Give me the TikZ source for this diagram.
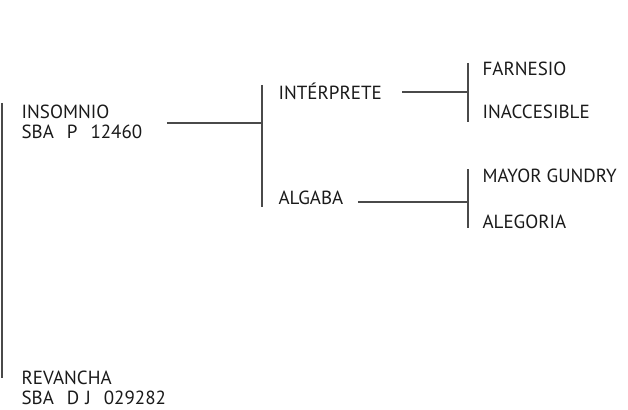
\documentclass[tikz,border=0pt]{standalone}
\usepackage{fontspec}
\setmainfont{PT Sans}
\usetikzlibrary{positioning, calc}
\definecolor{cline}{HTML}{4A4A4A}
\definecolor{ctext}{HTML}{1A1A1A}
\newcommand{\gapsp}{\hspace{13pt}}
\tikzset{
  every picture/.style={font=\fontsize{19}{20.5}\selectfont, line width=1.2pt},
  title/.style={anchor=west, inner sep=0pt, text=ctext, align=left},
  link/.style={draw=cline, line width=1.3pt},
}
\begin{document}
\begin{tikzpicture}[x=1pt, y=-1pt]
  \useasboundingbox (0,0) rectangle (628,409);
  % titles
  \node[title] (insomnio) at (21,122) {INSOMNIO\\SBA\gapsp P\gapsp 12460};
  \node[title] (revancha) at (21,388) {REVANCHA\\SBA\gapsp D\hspace{6pt}J\gapsp 029282};
  \node[title] (interprete) at (278,91) {INTÉRPRETE};
  \node[title] (algaba) at (278,198) {ALGABA};
  \node[title] (farnesio) at (482,69) {FARNESIO};
  \node[title] (inaccesible) at (482,112) {INACCESIBLE};
  \node[title] (mayor) at (482,176) {MAYOR GUNDRY};
  \node[title] (alegoria) at (482,222) {ALEGORIA};
  % brackets
  \coordinate (lt) at (2,103);
  \coordinate (lb) at (2,378);
  \coordinate (j1t) at (262,85);
  \coordinate (j1b) at (262,207);
  \coordinate (j2t) at (468,63);
  \coordinate (j2b) at (468,122);
  \coordinate (j3t) at (468,169);
  \coordinate (j3b) at (468,228);
  \draw[link] (lt) -- (lb);
  \draw[link] (j1t) -- (j1b);
  \draw[link] (j2t) -- (j2b);
  \draw[link] (j3t) -- (j3b);
  % branches
  \draw[link] ([xshift=24pt, yshift=-1pt]insomnio.east) -- ([yshift=-1pt]insomnio.east -| j1t);
  \draw[link] ([xshift=20pt, yshift=-1pt]interprete.east) -- ([yshift=-1pt]interprete.east -| j2t);
  \draw[link] ([xshift=14pt, yshift=-4pt]algaba.east) -- ([yshift=-4pt]algaba.east -| j3t);
\end{tikzpicture}
\end{document}
